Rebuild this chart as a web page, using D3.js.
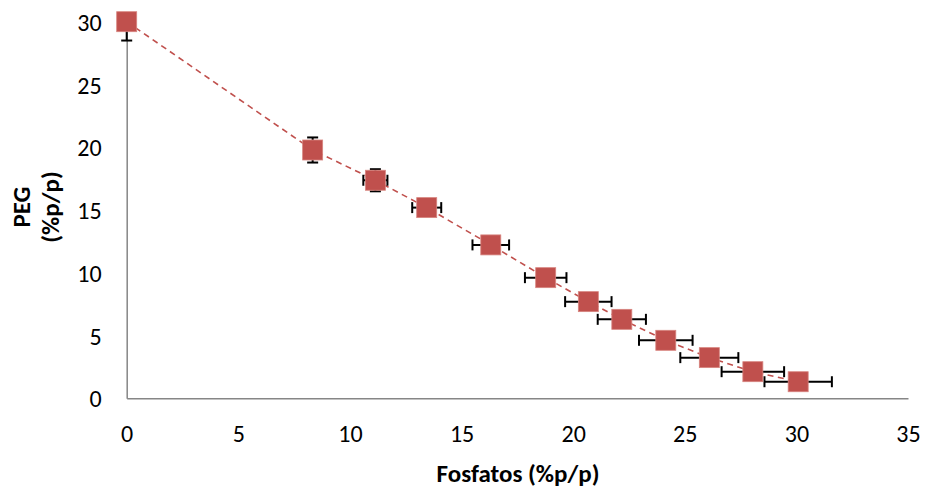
<!DOCTYPE html>
<html>
<head>
<meta charset="utf-8">
<script src="https://cdn.jsdelivr.net/npm/d3@7"></script>
<style>
  html, body { margin: 0; padding: 0; background: #fff; }
  svg { display: block; }
  text { font-family: Carlito, Lato, "Open Sans", sans-serif; fill: #000; }
</style>
</head>
<body>
<svg id="chart" width="925" height="490"></svg>
<script>
// Binodal data: phosphate vs PEG (% w/w) with standard deviations
const fosfatos = [0, 8.33, 11.14, 13.44, 16.31, 18.77, 20.68, 22.18, 24.15, 26.10, 28.05, 30.08];
const peg      = [30, 19.78, 17.37, 15.19, 12.22, 9.61, 7.70, 6.29, 4.62, 3.24, 2.12, 1.32];
const errX     = [0, 0, 0.54, 0.65, 0.82, 0.93, 1.04, 1.08, 1.20, 1.30, 1.40, 1.51];
const errY     = [1.5, 1.0, 0.88, 0, 0, 0, 0, 0, 0, 0, 0, 0];
const xTicks   = [0, 5, 10, 15, 20, 25, 30, 35];
const yTicks   = [0, 5, 10, 15, 20, 25, 30];

const svg = d3.select("#chart");
const plotLeft = 126.7, plotRight = 908, plotTop = 21.7, plotBottom = 398.3;

const x = d3.scaleLinear().domain([0, 35]).range([plotLeft, plotRight]);
const y = d3.scaleLinear().domain([0, 30]).range([plotBottom, plotTop]);

const points = fosfatos.map((v, i) => ({ x: v, y: peg[i], ex: errX[i], ey: errY[i] }));

// Axes: plain grey lines, no tick marks
const axisColor = "#868686";
const xAxis = svg.append("g").attr("transform", `translate(0,${plotBottom})`)
  .call(d3.axisBottom(x).tickValues(xTicks).tickSize(0));
const yAxis = svg.append("g").attr("transform", `translate(${plotLeft},0)`)
  .call(d3.axisLeft(y).tickValues(yTicks).tickSize(0).tickPadding(25));
[xAxis, yAxis].forEach(g => {
  g.select(".domain").attr("stroke", axisColor).attr("stroke-width", 1.5);
  g.selectAll("text").style("font-size", "24px").style("font-family", "Carlito, Lato, 'Open Sans', sans-serif");
});
xAxis.selectAll("text").attr("dy", "0.36em").attr("y", 35);
yAxis.selectAll("text").attr("dy", "0.36em");

// Axis titles
svg.append("text")
  .attr("x", 518).attr("y", 482)
  .attr("text-anchor", "middle")
  .style("font-size", "25px").style("font-weight", "bold")
  .text("Fosfatos (%p/p)");
const yTitle = svg.append("text")
  .attr("transform", "translate(0,207) rotate(-90)")
  .attr("text-anchor", "middle")
  .style("font-size", "25px").style("font-weight", "bold");
yTitle.append("tspan").attr("x", 0).attr("y", 30).text("PEG");
yTitle.append("tspan").attr("x", 0).attr("y", 59).text("(%p/p)");

// Dashed trend line through the points
const line = d3.line().x(d => x(d.x)).y(d => y(d.y));
svg.append("path")
  .datum(points)
  .attr("d", line)
  .attr("fill", "none")
  .attr("stroke", "#C0504D")
  .attr("stroke-width", 1.6)
  .attr("stroke-dasharray", "6,4.5");

// Error bars (clipped at the axis limits)
const eb = svg.append("g").attr("stroke", "#000").attr("stroke-width", 2);
const cap = 5.5;
points.forEach(p => {
  if (p.ex > 0) {
    const x0 = x(Math.max(0, p.x - p.ex)), x1 = x(Math.min(35, p.x + p.ex)), cy = y(p.y);
    eb.append("line").attr("x1", x0).attr("x2", x1).attr("y1", cy).attr("y2", cy);
    eb.append("line").attr("x1", x0).attr("x2", x0).attr("y1", cy - cap).attr("y2", cy + cap);
    eb.append("line").attr("x1", x1).attr("x2", x1).attr("y1", cy - cap).attr("y2", cy + cap);
  }
  if (p.ey > 0) {
    const lo = p.y - p.ey, hi = p.y + p.ey, cx = x(p.x);
    const y0 = y(Math.max(0, lo)), y1 = y(Math.min(30, hi));
    eb.append("line").attr("x1", cx).attr("x2", cx).attr("y1", y0).attr("y2", y1);
    if (lo >= 0) eb.append("line").attr("x1", cx - cap).attr("x2", cx + cap).attr("y1", y0).attr("y2", y0);
    if (hi <= 30) eb.append("line").attr("x1", cx - cap).attr("x2", cx + cap).attr("y1", y1).attr("y2", y1);
  }
});

// Square markers
const s = 20;
svg.append("g").selectAll("rect")
  .data(points)
  .join("rect")
  .attr("x", d => x(d.x) - s / 2)
  .attr("y", d => y(d.y) - s / 2)
  .attr("width", s).attr("height", s)
  .attr("fill", "#C0504D")
  .attr("stroke", "#D7847F")
  .attr("stroke-width", 0.8);
</script>
</body>
</html>
